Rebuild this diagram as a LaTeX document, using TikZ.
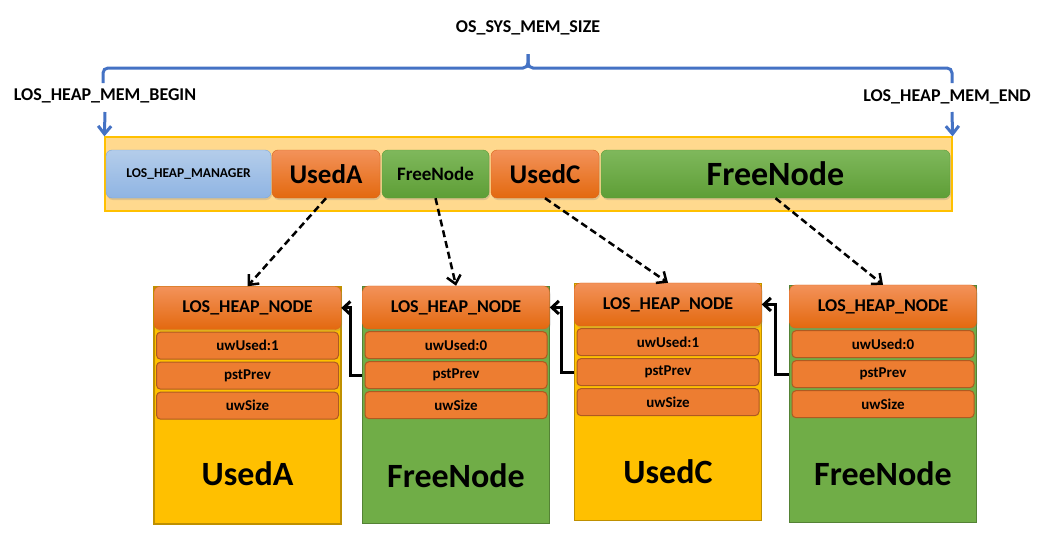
\documentclass[tikz,border=0pt]{standalone}
\usepackage{fontspec}
\setmainfont{Carlito}
\usepackage{tikz}
\usetikzlibrary{positioning, arrows.meta, shadows}

\definecolor{barfill}{HTML}{FFD98E}
\definecolor{barline}{HTML}{FFC000}
\definecolor{mgrtop}{HTML}{B4CDEA}
\definecolor{mgrbot}{HTML}{8FB4E3}
\definecolor{mgrline}{HTML}{7AA6DB}
\definecolor{orgtop}{HTML}{F3925A}
\definecolor{orgbot}{HTML}{E3690F}
\definecolor{orgline}{HTML}{D9651B}
\definecolor{fldfill}{HTML}{ED7D31}
\definecolor{fldline}{HTML}{AE5A21}
\definecolor{grntop}{HTML}{7FB85C}
\definecolor{grnbot}{HTML}{5E9E36}
\definecolor{grnline}{HTML}{5A9A36}
\definecolor{gold}{HTML}{FFC000}
\definecolor{goldline}{HTML}{BF9000}
\definecolor{grnbox}{HTML}{70AD47}
\definecolor{grnboxline}{HTML}{548235}
\definecolor{brcblue}{HTML}{4472C4}

\begin{document}
\begin{tikzpicture}[x=1pt,y=-1pt,
    lbl/.style={font=\bfseries\fontsize{18}{20}\selectfont},
    brc/.style={draw=brcblue,line width=3pt,rounded corners=5pt},
    barr/.style={draw=brcblue,line width=3pt,-{Straight Barb[length=8pt,width=13pt]}},
    bar/.style={draw=barline,line width=1.2pt,fill=barfill,minimum width=847pt,minimum height=74pt},
    blk/.style={rounded corners=6pt,minimum height=48pt,inner sep=0pt,
        drop shadow={opacity=0.25,shadow xshift=1pt,shadow yshift=-2pt}},
    mgr/.style={blk,draw=mgrline,top color=mgrtop,bottom color=mgrbot,
        font=\bfseries\fontsize{13.5}{15}\selectfont},
    used/.style={blk,draw=orgline,top color=orgtop,bottom color=orgbot,
        font=\bfseries\fontsize{27}{30}\selectfont},
    free/.style={blk,draw=grnline,top color=grntop,bottom color=grnbot},
    usedbox/.style={draw=goldline,line width=1.5pt,fill=gold,minimum width=187pt,minimum height=237pt},
    freebox/.style={draw=grnboxline,line width=1.5pt,fill=grnbox,minimum width=187pt,minimum height=237pt},
    hdr/.style={blk,draw=orgline,top color=orgtop,bottom color=orgbot,
        minimum width=187pt,minimum height=43pt,font=\bfseries\fontsize{18}{20}\selectfont},
    fld/.style={draw=fldline,line width=1pt,fill=fldfill,rounded corners=4pt,
        minimum width=182pt,minimum height=27pt,inner sep=0pt,font=\bfseries\fontsize{15}{17}\selectfont},
    bigtxt/.style={font=\bfseries\fontsize{34}{38}\selectfont},
    ptr/.style={draw=black,line width=2.5pt,dash pattern=on 7pt off 4pt,
        -{Straight Barb[length=8pt,width=14pt]}},
    prv/.style={draw=black,line width=3pt,-{Straight Barb[length=7pt,width=13pt]}}]

    \useasboundingbox (0,0) rectangle (1045,546);

    % size of the heap
    \node[lbl] (size) at (528,28) {OS\_SYS\_MEM\_SIZE};
    \node[lbl] (beg) at (105,96) {LOS\_HEAP\_MEM\_BEGIN};
    \node[lbl] (end) at (947,97) {LOS\_HEAP\_MEM\_END};
    \coordinate (bl) at (103,83);
    \coordinate (br) at (952,83);
    \coordinate (btip) at (528,54);
    \draw[brc] (bl) -- (103,68) -- (528,68) -- (btip);
    \draw[brc] (br) -- (952,68) -- (528,68) -- (btip);

    % heap memory
    \node[bar] (heap) at (528.5,174) {};
    \coordinate (pbeg) at (105,112);
    \coordinate (pend) at (952,112);
    \draw[barr] (pbeg) -- (heap.north west);
    \draw[barr] (pend) -- (heap.north east);

    \node[mgr,minimum width=165pt] (mgr) at (188.5,174) {LOS\_HEAP\_MANAGER};
    \node[used,minimum width=108pt] (useda) at (326,174) {UsedA};
    \node[free,minimum width=107pt,font=\bfseries\fontsize{19}{21}\selectfont] (freea) at (435.5,174) {FreeNode};
    \node[used,minimum width=108pt] (usedc) at (545,174) {UsedC};
    \node[free,minimum width=349pt,font=\bfseries\fontsize{34}{38}\selectfont] (freeb) at (775.5,174) {FreeNode};

    % the nodes
    \node[usedbox] (b1) at (247.5,405.5) {};
    \node[hdr,anchor=north] (h1) at (b1.north) {LOS\_HEAP\_NODE};
    \node[fld,below=2pt of h1] (u1) {uwUsed:1};
    \node[fld,below=2pt of u1] (p1) {pstPrev};
    \node[fld,below=2pt of p1] (s1) {uwSize};
    \node[bigtxt] (t1) at (247.5,474) {UsedA};

    \node[freebox] (b2) at (456,405) {};
    \node[hdr,anchor=north] (h2) at (b2.north) {LOS\_HEAP\_NODE};
    \node[fld,below=2pt of h2] (u2) {uwUsed:0};
    \node[fld,below=2pt of u2] (p2) {pstPrev};
    \node[fld,below=2pt of p2] (s2) {uwSize};
    \node[bigtxt] (t2) at (456,476) {FreeNode};

    \node[usedbox] (b3) at (668,402) {};
    \node[hdr,anchor=north] (h3) at (b3.north) {LOS\_HEAP\_NODE};
    \node[fld,below=2pt of h3] (u3) {uwUsed:1};
    \node[fld,below=2pt of u3] (p3) {pstPrev};
    \node[fld,below=2pt of p3] (s3) {uwSize};
    \node[bigtxt] (t3) at (668,472) {UsedC};

    \node[freebox] (b4) at (883,404) {};
    \node[hdr,anchor=north] (h4) at (b4.north) {LOS\_HEAP\_NODE};
    \node[fld,below=2pt of h4] (u4) {uwUsed:0};
    \node[fld,below=2pt of u4] (p4) {pstPrev};
    \node[fld,below=2pt of p4] (s4) {uwSize};
    \node[bigtxt] (t4) at (883,474) {FreeNode};

    % links
    \draw[ptr] (useda.south) -- (h1.north);
    \draw[ptr] (freea.south) -- (h2.north);
    \draw[ptr] (usedc.south) -- (h3.north);
    \draw[ptr] (freeb.south) -- (h4.north);

    \draw[prv] (b2.west |- p2) -- ++(-11,0) |- (h1.east);
    \draw[prv] (b3.west |- p3) -- ++(-12,0) |- (h2.east);
    \draw[prv] (b4.west |- p4) -- ++(-13,0) |- (h3.east);
\end{tikzpicture}
\end{document}
